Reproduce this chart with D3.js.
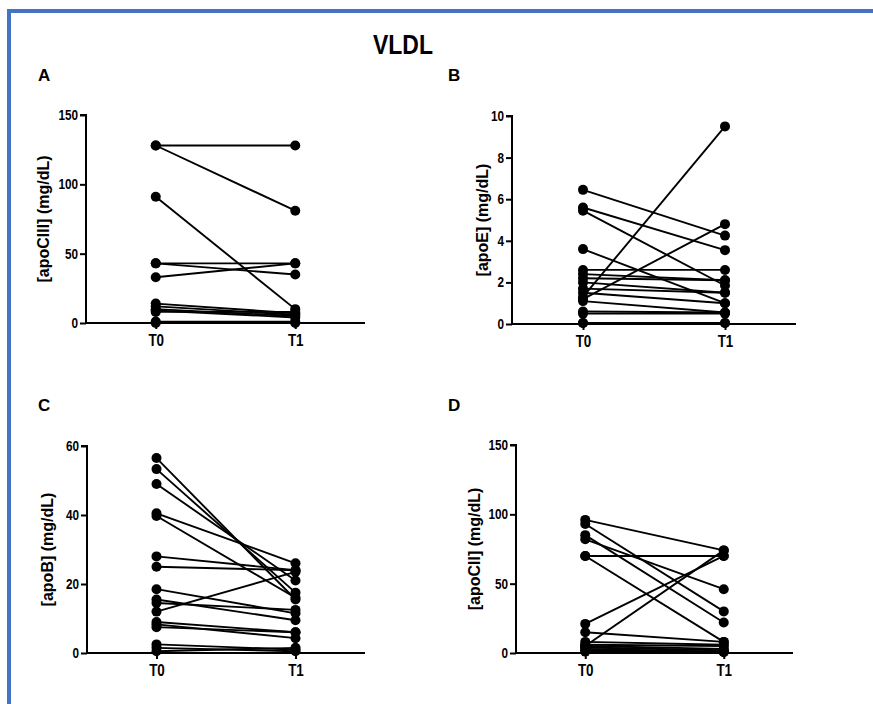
<!DOCTYPE html>
<html>
<head>
<meta charset="utf-8">
<script src="https://cdn.jsdelivr.net/npm/d3@7"></script>
<style>
  body { margin: 0; background: #fff; }
  svg { display: block; }
</style>
</head>
<body>
<div id="chart"></div>
<script>
// chart values
var times = ["T0", "T1"];

// A: apoCIII
var apoCIII_T0 = [128, 128, 91, 43, 43, 33, 14, 12, 10, 9, 8, 1, 0];
var apoCIII_T1 = [128, 81, 10, 43, 35, 43, 7, 6, 5, 4, 8, 1, 0];

// B: apoE
var apoE_T0 = [6.45, 5.6, 5.45, 3.6, 2.6, 2.4, 2.2, 2.0, 1.7, 1.5, 1.3, 1.2, 1.1, 0.6, 0.5, 0.05, 0.05];
var apoE_T1 = [4.25, 3.55, 1.85, 1.0, 2.6, 2.1, 2.1, 1.5, 1.5, 1.0, 9.5, 4.8, 0.55, 0.55, 0.5, 0.05, 0.05];

// C: apoB
var apoB_T0 = [56.5, 53.3, 49, 40.5, 39.7, 28, 25, 18.5, 15.5, 14.5, 12, 9, 8.3, 7.5, 2.5, 1.5, 0.5];
var apoB_T1 = [15.5, 17.5, 21, 26, 16, 24, 24, 11.5, 9.5, 12.5, 23.5, 6, 4.3, 6, 1, 0.5, 1.5];

// D: apoCII
var apoCII_T0 = [96, 93, 85, 82, 70, 70, 21, 5, 15, 8, 6, 5, 4, 3, 2, 1];
var apoCII_T1 = [74, 30, 22, 46, 70, 8, 70, 74, 8, 6, 5, 3, 2, 1, 1, 0.5];

var yTicksA = [0, 50, 100, 150];
var yTicksB = [0, 2, 4, 6, 8, 10];
var yTicksC = [0, 20, 40, 60];
var yTicksD = [0, 50, 100, 150];

var svgWidth = 873;
var svgHeight = 704;
var narrow = 0.84; // the figure uses a condensed face, squeeze Liberation Sans

var svg = d3.select("#chart").append("svg")
  .attr("width", svgWidth)
  .attr("height", svgHeight);

// blue frame (right / bottom edges fall outside the picture)
svg.append("rect")
  .attr("x", 9)
  .attr("y", 11)
  .attr("width", 900)
  .attr("height", 800)
  .attr("fill", "none")
  .attr("stroke", "#4472c4")
  .attr("stroke-width", 4);

svg.append("text")
  .attr("transform", `translate(403, 54) scale(0.82, 1)`)
  .attr("text-anchor", "middle")
  .attr("font-family", "'Liberation Sans', Arial, sans-serif")
  .attr("font-weight", "bold")
  .attr("font-size", 28)
  .text("VLDL");

var panels = [
  {letter: "A", lx: 38, ly: 81, tx: 43, left: 86, top: 115, width: 279, height: 208, max: 150, ticks: yTicksA, t0: apoCIII_T0, t1: apoCIII_T1, label: "[apoCIII] (mg/dL)"},
  {letter: "B", lx: 448, ly: 81, tx: 482, left: 512, top: 116, width: 284, height: 208, max: 10, ticks: yTicksB, t0: apoE_T0, t1: apoE_T1, label: "[apoE] (mg/dL)"},
  {letter: "C", lx: 38, ly: 411, tx: 47, left: 87, top: 446, width: 278, height: 207, max: 60, ticks: yTicksC, t0: apoB_T0, t1: apoB_T1, label: "[apoB] (mg/dL)"},
  {letter: "D", lx: 448, ly: 411, tx: 474, left: 516, top: 445, width: 277, height: 208, max: 150, ticks: yTicksD, t0: apoCII_T0, t1: apoCII_T1, label: "[apoCII] (mg/dL)"}
];

panels.forEach(function(p) {
  svg.append("text")
    .attr("x", p.lx)
    .attr("y", p.ly)
    .attr("font-family", "'Liberation Sans', Arial, sans-serif")
    .attr("font-weight", "bold")
    .attr("font-size", 17)
    .text(p.letter);

  var g = svg.append("g")
    .attr("transform", `translate(${p.left}, ${p.top})`);

  var x = d3.scalePoint().domain(times).range([0, p.width]).padding(0.5);
  var y = d3.scaleLinear().domain([0, p.max]).range([p.height, 0]);

  // paired values, one line per subject
  var pairs = p.t0.map(function(v, i) { return [v, p.t1[i]]; });

  g.selectAll("line.pair")
    .data(pairs)
    .enter()
    .append("line")
    .attr("class", "pair")
    .attr("x1", x("T0"))
    .attr("x2", x("T1"))
    .attr("y1", d => y(d[0]))
    .attr("y2", d => y(d[1]))
    .attr("stroke", "#000")
    .attr("stroke-width", 1.9);

  var dots = [];
  pairs.forEach(function(d) {
    dots.push({t: "T0", v: d[0]});
    dots.push({t: "T1", v: d[1]});
  });

  g.selectAll("circle")
    .data(dots)
    .enter()
    .append("circle")
    .attr("cx", d => x(d.t))
    .attr("cy", d => y(d.v))
    .attr("r", 5)
    .attr("fill", "#000");

  var leftAxis = d3.axisLeft(y).tickValues(p.ticks).tickSize(6).tickPadding(2);
  var bottomAxis = d3.axisBottom(x).tickSize(6).tickPadding(6);

  var ya = g.append("g").call(leftAxis);
  var xa = g.append("g").attr("transform", `translate(0, ${p.height})`).call(bottomAxis);

  [ya, xa].forEach(function(a) {
    a.select(".domain").attr("stroke", "#000").attr("stroke-width", 2);
    a.selectAll(".tick line").attr("stroke", "#000").attr("stroke-width", 2);
    a.selectAll(".tick text")
      .attr("fill", "#000")
      .attr("font-family", "'Liberation Sans', Arial, sans-serif")
      .attr("font-weight", "bold")
      .attr("font-size", 14);
  });
  ya.select(".domain").attr("d", `M-6,0H0V${p.height}`);
  xa.select(".domain").attr("d", `M0,0H${p.width}`);
  ya.selectAll(".tick text")
    .attr("x", -8 / narrow)
    .attr("transform", `scale(${narrow}, 1)`);
  xa.selectAll(".tick text")
    .attr("font-size", 16)
    .attr("transform", `scale(${narrow}, 1)`);

  // y axis title
  svg.append("text")
    .attr("transform", `translate(${p.tx}, ${p.top + p.height / 2}) rotate(-90)`)
    .attr("dy", "0.35em")
    .attr("text-anchor", "middle")
    .attr("font-family", "'Liberation Sans', Arial, sans-serif")
    .attr("font-weight", "bold")
    .attr("font-size", 16)
    .text(p.label);
});
</script>
</body>
</html>
